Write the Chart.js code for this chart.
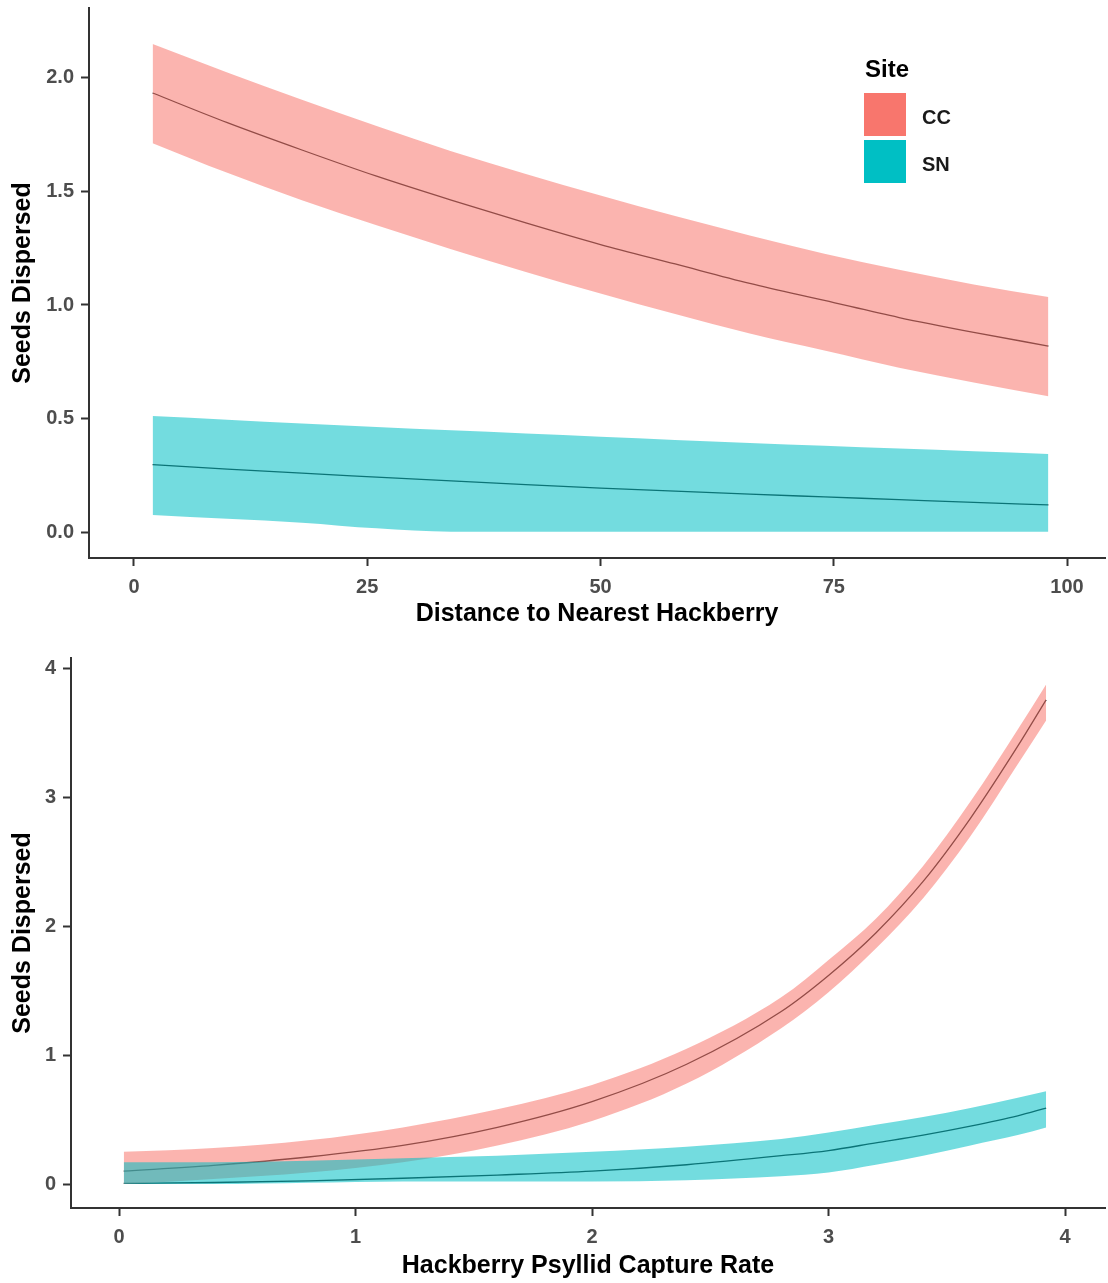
<!DOCTYPE html>
<html>
<head>
<meta charset="utf-8">
<script src="https://cdn.jsdelivr.net/npm/chart.js@4.4.1/dist/chart.umd.min.js"></script>
<style>
  body { margin: 0; background: #fff; }
  canvas { position: absolute; left: 0; }
</style>
</head>
<body>
<canvas id="distChart" width="1108" height="640" style="top:0"></canvas>
<canvas id="capChart" width="1108" height="643" style="top:640px"></canvas>
<script>
// legend
var siteNames = ['CC', 'SN'];
var siteColors = ['#F8766D', '#00BFC4'];
var ribbonColors = ['rgba(248,118,109,0.55)', 'rgba(0,191,196,0.55)'];

// top panel: distance to nearest hackberry
var distX = [2, 10, 18, 26, 34, 42, 50, 58, 66, 74, 82, 90, 98];
var distCCFit  = [1.93, 1.80, 1.68, 1.565, 1.46, 1.36, 1.265, 1.18, 1.095, 1.02, 0.945, 0.88, 0.82];
var distCCHigh = [2.145, 2.02, 1.90, 1.785, 1.675, 1.575, 1.48, 1.39, 1.305, 1.225, 1.155, 1.09, 1.035];
var distCCLow  = [1.71, 1.58, 1.46, 1.35, 1.245, 1.145, 1.05, 0.96, 0.875, 0.80, 0.725, 0.66, 0.60];
var distSNFit  = [0.30, 0.28, 0.262, 0.245, 0.228, 0.212, 0.197, 0.183, 0.17, 0.158, 0.146, 0.134, 0.123];
var distSNHigh = [0.513, 0.497, 0.48, 0.465, 0.45, 0.436, 0.422, 0.408, 0.395, 0.382, 0.37, 0.358, 0.346];
var distSNLow  = [0.079, 0.062, 0.045, 0.02, 0.005, 0.005, 0.005, 0.005, 0.005, 0.005, 0.005, 0.005, 0.005];
var distXTicks = [0, 25, 50, 75, 100];
var distYTicks = [0, 0.5, 1, 1.5, 2];
var distYLabels = ['0.0', '0.5', '1.0', '1.5', '2.0'];

// bottom panel: psyllid capture rate
var capX = [0.02, 0.4, 0.8, 1.2, 1.6, 2.0, 2.4, 2.8, 3.0, 3.2, 3.4, 3.6, 3.8, 3.92];
var capCCFit  = [0.10, 0.145, 0.21, 0.30, 0.44, 0.64, 0.93, 1.34, 1.62, 1.95, 2.35, 2.84, 3.40, 3.76];
var capCCHigh = [0.25, 0.28, 0.34, 0.44, 0.58, 0.77, 1.05, 1.45, 1.74, 2.06, 2.47, 2.97, 3.53, 3.88];
var capCCLow  = [0.0, 0.04, 0.09, 0.17, 0.30, 0.49, 0.78, 1.21, 1.49, 1.83, 2.22, 2.70, 3.26, 3.60];
var capSNFit  = [0.005, 0.012, 0.025, 0.045, 0.07, 0.10, 0.15, 0.22, 0.26, 0.32, 0.38, 0.45, 0.53, 0.59];
var capSNHigh = [0.17, 0.17, 0.18, 0.20, 0.22, 0.25, 0.29, 0.35, 0.40, 0.46, 0.52, 0.59, 0.67, 0.72];
var capSNLow  = [0.0, 0.0, 0.01, 0.02, 0.02, 0.02, 0.03, 0.06, 0.09, 0.15, 0.22, 0.30, 0.38, 0.44];
var capXTicks = [0, 1, 2, 3, 4];
var capYTicks = [0, 1, 2, 3, 4];
var capYLabels = ['0', '1', '2', '3', '4'];

var FONT = "'Liberation Sans', Arial, sans-serif";
Chart.defaults.font.family = FONT;

function pts(xs, ys) {
    return xs.map(function (x, i) { return { x: x, y: ys[i] }; });
}

function lineSet(xs, ys) {
    return {
        data: pts(xs, ys),
        borderColor: '#1a1a1a',
        borderWidth: 1.3,
        pointRadius: 0,
        fill: false,
        cubicInterpolationMode: 'monotone',
        order: 3
    };
}

function edgeSet(xs, ys, color, fill, order) {
    return {
        data: pts(xs, ys),
        borderWidth: 0,
        borderColor: 'rgba(0,0,0,0)',
        backgroundColor: color,
        pointRadius: 0,
        fill: fill,
        cubicInterpolationMode: 'monotone',
        order: order
    };
}

// ggplot-ish legend drawn inside the top panel
var siteLegend = {
    id: 'siteLegend',
    afterDraw: function (chart) {
        var ctx = chart.ctx;
        ctx.save();
        ctx.textBaseline = 'middle';
        ctx.textAlign = 'left';
        ctx.fillStyle = '#000';
        ctx.font = 'bold 24px ' + FONT;
        ctx.fillText('Site', 865, 70);
        for (var i = 0; i < siteNames.length; i++) {
            var top = 93 + i * 47;
            ctx.fillStyle = siteColors[i];
            ctx.fillRect(864, top, 42, 43);
            ctx.fillStyle = '#1a1a1a';
            ctx.font = 'bold 20px ' + FONT;
            ctx.fillText(siteNames[i], 922, top + 25);
        }
        ctx.restore();
    }
};

function makeChart(id, o) {
    var datasets = [
        lineSet(o.x, o.ccFit),
        lineSet(o.x, o.snFit),
        edgeSet(o.x, o.ccLow, ribbonColors[0], false, 2),
        edgeSet(o.x, o.ccHigh, ribbonColors[0], '-1', 2),
        edgeSet(o.x, o.snLow, ribbonColors[1], false, 1),
        edgeSet(o.x, o.snHigh, ribbonColors[1], '-1', 1)
    ];
    var tickFont = { size: 20, weight: 'bold', family: FONT };
    var titleFont = { size: 25, weight: 'bold', family: FONT, lineHeight: 1.2 };
    return new Chart(document.getElementById(id), {
        type: 'line',
        data: { datasets: datasets },
        plugins: o.plugins || [],
        options: {
            responsive: false,
            animation: false,
            devicePixelRatio: 1,
            layout: { padding: { top: o.padTop, right: 3, left: 0, bottom: 0 } },
            plugins: { legend: { display: false }, tooltip: { enabled: false } },
            scales: {
                x: {
                    type: 'linear',
                    min: o.xMin, max: o.xMax,
                    afterBuildTicks: function (s) { s.ticks = o.xTicks.map(function (v) { return { value: v }; }); },
                    afterFit: function (s) { s.height = o.xHeight; s.paddingLeft = 0; s.paddingRight = 0; },
                    grid: { drawOnChartArea: false, drawTicks: true, tickLength: 8, tickColor: '#333', tickWidth: 2 },
                    border: { display: true, color: '#333', width: 2 },
                    ticks: { color: '#4d4d4d', font: tickFont, padding: 9, maxRotation: 0, autoSkip: false,
                             callback: function (v) { return String(v); } },
                    title: { display: true, text: o.xTitle, color: '#000', font: titleFont, padding: { top: 4, bottom: o.xTitlePad } }
                },
                y: {
                    min: o.yMin, max: o.yMax,
                    afterBuildTicks: function (s) { s.ticks = o.yTicks.map(function (v) { return { value: v }; }); },
                    afterFit: function (s) { s.width = o.yWidth; s.paddingTop = 0; s.paddingBottom = 0; },
                    grid: { drawOnChartArea: false, drawTicks: true, tickLength: 8, tickColor: '#333', tickWidth: 2 },
                    border: { display: true, color: '#333', width: 2 },
                    ticks: { color: '#4d4d4d', font: tickFont, padding: 7, autoSkip: false,
                             callback: function (v) { return o.yLabels[o.yTicks.indexOf(v)]; } },
                    title: { display: true, text: 'Seeds Dispersed', color: '#000', font: titleFont, padding: { top: 8, bottom: 4 } }
                }
            }
        }
    });
}

makeChart('distChart', {
    x: distX, ccFit: distCCFit, ccHigh: distCCHigh, ccLow: distCCLow,
    snFit: distSNFit, snHigh: distSNHigh, snLow: distSNLow,
    xMin: -4.82, xMax: 104.07, yMin: -0.11, yMax: 2.303,
    xTicks: distXTicks, yTicks: distYTicks, yLabels: distYLabels,
    xTitle: 'Distance to Nearest Hackberry', xTitlePad: 11,
    padTop: 8, yWidth: 89, xHeight: 82,
    plugins: [siteLegend]
});

makeChart('capChart', {
    x: capX, ccFit: capCCFit, ccHigh: capCCHigh, ccLow: capCCLow,
    snFit: capSNFit, snHigh: capSNHigh, snLow: capSNLow,
    xMin: -0.203, xMax: 4.169, yMin: -0.186, yMax: 4.085,
    xTicks: capXTicks, yTicks: capYTicks, yLabels: capYLabels,
    xTitle: 'Hackberry Psyllid Capture Rate', xTitlePad: 2,
    padTop: 18, yWidth: 71, xHeight: 75
});
</script>
</body>
</html>
